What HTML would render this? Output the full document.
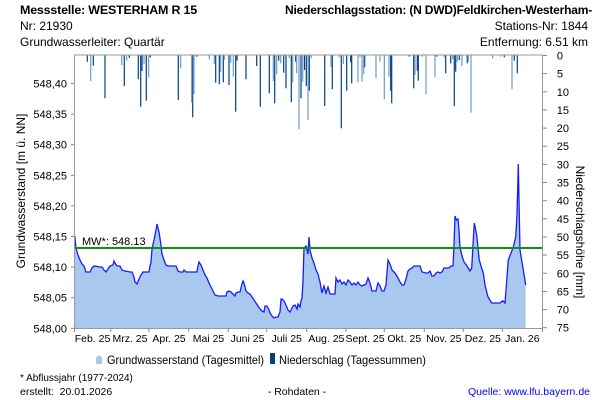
<!DOCTYPE html>
<html><head><meta charset="utf-8"><style>
html,body{margin:0;padding:0;background:#fff}
svg{display:block}
text{font-family:"Liberation Sans",Arial,sans-serif;fill:#000}
</style></head><body>
<svg width="600" height="400" viewBox="0 0 600 400" xmlns="http://www.w3.org/2000/svg">
<rect width="600" height="400" fill="#fff"/>
<!-- header -->
<text x="20" y="14" font-size="12" font-weight="bold" letter-spacing="-0.2" textLength="177" lengthAdjust="spacingAndGlyphs">Messstelle: WESTERHAM R 15</text>
<text x="20" y="30" font-size="12">Nr: 21930</text>
<text x="20" y="46" font-size="12">Grundwasserleiter: Quartär</text>
<text x="592" y="14" font-size="12" font-weight="bold" text-anchor="end" letter-spacing="-0.2">Niederschlagsstation: (N DWD)Feldkirchen-Westerham-</text>
<text x="588" y="30" font-size="12" text-anchor="end">Stations-Nr: 1844</text>
<text x="588" y="46" font-size="12" text-anchor="end">Entfernung: 6.51 km</text>

<!-- groundwater area -->
<polygon fill="#a8c8ee" points="74.7,328 74.7,236 76,248 78,255 80,260 82,264 84,266 86,272 90,272 92,268 94,266 100,267 102,267 104,270 106,272 108,269 110,266 113,265 114,261 115,263 117,266 120,266 122,270 125,271 130,272 132,272 134,277 135,282 137,284 139,279 141,275 143,272 149,272 150,266 151,262 152,249 154,240 156,230 157,224 159,232 161,245 162,254 164,260 166,265 168,266 176,266 178,271 180,272 183,272 184,270 186,272 197,272 198,266 199,262 201,265 203,270 205,275 207,278 209,283 211,287 213,291 215,295 218,296 226,296 227,292 229,291 231,292 233,294 235,296 236,293 238,292 240,292 242,284 243,281 244,283 246,291 248,293 250,294 252,297 254,300 256,303 258,306 260,309 262,311 264,312 265,306 267,306 269,310 270,313 272,316 274,318 276,317 278,317 280,312 281,299 282,299 284,301 286,305 288,310 290,312 293,306 295,305 297,309 298,304 300,307 301,301 302,298 303,281 304,248 306,246 308,254 309,237 310,250 312,258 314,263 316,270 318,274 320,282 322,293 324,286 326,293 328,287 330,294 335,294 336,278 338,282 340,280 342,284 344,282 346,285 348,280 350,282 352,285 354,283 356,285 358,282 360,285 362,286 364,285 366,284 368,278 370,283 372,291 376,291 378,283 380,286 382,291 384,291 386,285 388,260 390,264 392,270 395,273 398,278 400,282 402,285 404,285 406,279 408,271 410,269 412,268 414,266 420,266 422,272 426,273 428,273 430,271 432,276 434,276 436,273 438,272 440,273 442,272 444,268 446,268 449,268 451,266 453,266 454,245 455,216 456.5,220 458,219 459,230 460,247 462,256 464,262 467,266 470,271 471.7,268 473,245 474.3,223 476.7,235 479.3,260 481,266 483.3,273 485,285 488,297 491.7,303 500,303 502.7,300.7 505,303 506,290 508.3,260 513.3,247 515.7,237 517,215 518.3,164 519,200 520,250 523.3,270 525.7,285 525.7,328"/>
<polyline fill="none" stroke="#1a1aff" stroke-width="1.3" points="74.7,236 76,248 78,255 80,260 82,264 84,266 86,272 90,272 92,268 94,266 100,267 102,267 104,270 106,272 108,269 110,266 113,265 114,261 115,263 117,266 120,266 122,270 125,271 130,272 132,272 134,277 135,282 137,284 139,279 141,275 143,272 149,272 150,266 151,262 152,249 154,240 156,230 157,224 159,232 161,245 162,254 164,260 166,265 168,266 176,266 178,271 180,272 183,272 184,270 186,272 197,272 198,266 199,262 201,265 203,270 205,275 207,278 209,283 211,287 213,291 215,295 218,296 226,296 227,292 229,291 231,292 233,294 235,296 236,293 238,292 240,292 242,284 243,281 244,283 246,291 248,293 250,294 252,297 254,300 256,303 258,306 260,309 262,311 264,312 265,306 267,306 269,310 270,313 272,316 274,318 276,317 278,317 280,312 281,299 282,299 284,301 286,305 288,310 290,312 293,306 295,305 297,309 298,304 300,307 301,301 302,298 303,281 304,248 306,246 308,254 309,237 310,250 312,258 314,263 316,270 318,274 320,282 322,293 324,286 326,293 328,287 330,294 335,294 336,278 338,282 340,280 342,284 344,282 346,285 348,280 350,282 352,285 354,283 356,285 358,282 360,285 362,286 364,285 366,284 368,278 370,283 372,291 376,291 378,283 380,286 382,291 384,291 386,285 388,260 390,264 392,270 395,273 398,278 400,282 402,285 404,285 406,279 408,271 410,269 412,268 414,266 420,266 422,272 426,273 428,273 430,271 432,276 434,276 436,273 438,272 440,273 442,272 444,268 446,268 449,268 451,266 453,266 454,245 455,216 456.5,220 458,219 459,230 460,247 462,256 464,262 467,266 470,271 471.7,268 473,245 474.3,223 476.7,235 479.3,260 481,266 483.3,273 485,285 488,297 491.7,303 500,303 502.7,300.7 505,303 506,290 508.3,260 513.3,247 515.7,237 517,215 518.3,164 519,200 520,250 523.3,270 525.7,285"/>

<!-- MW line -->
<line x1="74" y1="248" x2="543" y2="248" stroke="#109010" stroke-width="2"/>
<text x="82" y="245" font-size="11">MW*: 548.13</text>

<!-- precipitation bars -->
<g stroke-width="1.2">
<g stroke="#00427f">
<line x1="87.3" y1="55" x2="87.3" y2="61.7"/><line x1="93.3" y1="55" x2="93.3" y2="65.7"/><line x1="105" y1="55" x2="105" y2="98.3"/><line x1="124.3" y1="55" x2="124.3" y2="86"/><line x1="129.3" y1="55" x2="129.3" y2="58"/><line x1="138.3" y1="55" x2="138.3" y2="79.3"/><line x1="140.7" y1="55" x2="140.7" y2="106.7"/><line x1="142" y1="55" x2="142" y2="71"/><line x1="146.3" y1="55" x2="146.3" y2="100.7"/><line x1="150.3" y1="55" x2="150.3" y2="57.3"/><line x1="178.3" y1="55" x2="178.3" y2="100"/><line x1="192.7" y1="55" x2="192.7" y2="117.3"/><line x1="196.7" y1="55" x2="196.7" y2="56.7"/><line x1="215.7" y1="55" x2="215.7" y2="82.7"/><line x1="219.3" y1="55" x2="219.3" y2="84.3"/><line x1="223.3" y1="55" x2="223.3" y2="82.3"/><line x1="229" y1="55" x2="229" y2="85"/><line x1="235.7" y1="55" x2="235.7" y2="111.7"/><line x1="237" y1="55" x2="237" y2="60.7"/><line x1="246" y1="55" x2="246" y2="79.3"/><line x1="256.7" y1="55" x2="256.7" y2="66"/><line x1="260.3" y1="55" x2="260.3" y2="106.7"/><line x1="269.3" y1="55" x2="269.3" y2="93.3"/><line x1="274.7" y1="55" x2="274.7" y2="103.3"/><line x1="278.7" y1="55" x2="278.7" y2="60.7"/><line x1="283.7" y1="55" x2="283.7" y2="72.7"/><line x1="286" y1="55" x2="286" y2="88.3"/><line x1="291.3" y1="55" x2="291.3" y2="102.3"/><line x1="295.7" y1="55" x2="295.7" y2="61.7"/><line x1="301" y1="55" x2="301" y2="98.3"/><line x1="304.5" y1="55" x2="304.5" y2="70"/><line x1="306.3" y1="55" x2="306.3" y2="86"/><line x1="309.3" y1="55" x2="309.3" y2="90.7"/><line x1="324.7" y1="55" x2="324.7" y2="106"/><line x1="332.3" y1="55" x2="332.3" y2="89.3"/><line x1="341.3" y1="55" x2="341.3" y2="128.3"/><line x1="346.7" y1="55" x2="346.7" y2="90.7"/><line x1="350.7" y1="55" x2="350.7" y2="62.3"/><line x1="351.7" y1="55" x2="351.7" y2="83.3"/><line x1="364.7" y1="55" x2="364.7" y2="67.3"/><line x1="390.7" y1="55" x2="390.7" y2="90.7"/><line x1="391.7" y1="55" x2="391.7" y2="103.3"/><line x1="409.3" y1="55" x2="409.3" y2="56.7"/><line x1="413.7" y1="55" x2="413.7" y2="88.3"/><line x1="417.3" y1="55" x2="417.3" y2="70.7"/><line x1="418.3" y1="55" x2="418.3" y2="80.7"/><line x1="436.7" y1="55" x2="436.7" y2="56.7"/><line x1="445.7" y1="55" x2="445.7" y2="73.3"/><line x1="450.7" y1="55" x2="450.7" y2="63.3"/><line x1="454.3" y1="55" x2="454.3" y2="106"/><line x1="455.7" y1="55" x2="455.7" y2="71.7"/><line x1="459.3" y1="55" x2="459.3" y2="60"/><line x1="467.3" y1="55" x2="467.3" y2="63.3"/><line x1="504.3" y1="55" x2="504.3" y2="57.3"/><line x1="514.3" y1="55" x2="514.3" y2="60.7"/><line x1="517.3" y1="55" x2="517.3" y2="73.3"/>
</g>
<g stroke="#6a9ccc">
<line x1="90.7" y1="55" x2="90.7" y2="81"/><line x1="121.7" y1="55" x2="121.7" y2="65"/><line x1="126.7" y1="55" x2="126.7" y2="60.7"/><line x1="144" y1="55" x2="144" y2="64"/><line x1="148.7" y1="55" x2="148.7" y2="77.3"/><line x1="180.7" y1="55" x2="180.7" y2="68.3"/><line x1="191.7" y1="55" x2="191.7" y2="102.7"/><line x1="194" y1="55" x2="194" y2="94"/><line x1="209.3" y1="55" x2="209.3" y2="59.3"/><line x1="214.3" y1="55" x2="214.3" y2="64"/><line x1="220.7" y1="55" x2="220.7" y2="71.7"/><line x1="224.3" y1="55" x2="224.3" y2="60"/><line x1="230.7" y1="55" x2="230.7" y2="62.7"/><line x1="233.3" y1="55" x2="233.3" y2="76.7"/><line x1="273.3" y1="55" x2="273.3" y2="81"/><line x1="276.7" y1="55" x2="276.7" y2="74.3"/><line x1="280.7" y1="55" x2="280.7" y2="63.3"/><line x1="289.3" y1="55" x2="289.3" y2="58.3"/><line x1="292.7" y1="55" x2="292.7" y2="82.3"/><line x1="296.7" y1="55" x2="296.7" y2="73.3"/><line x1="299" y1="55" x2="299" y2="129.3"/><line x1="302.7" y1="55" x2="302.7" y2="81.7"/><line x1="308" y1="55" x2="308" y2="120"/><line x1="311.3" y1="55" x2="311.3" y2="58.3"/><line x1="331" y1="55" x2="331" y2="67.3"/><line x1="339.3" y1="55" x2="339.3" y2="57.3"/><line x1="343.3" y1="55" x2="343.3" y2="64"/><line x1="358" y1="55" x2="358" y2="82.3"/><line x1="360" y1="55" x2="360" y2="57.3"/><line x1="362" y1="55" x2="362" y2="81.7"/><line x1="363.7" y1="55" x2="363.7" y2="74.3"/><line x1="376" y1="55" x2="376" y2="78.3"/><line x1="380" y1="55" x2="380" y2="61.7"/><line x1="384.3" y1="55" x2="384.3" y2="99.3"/><line x1="389" y1="55" x2="389" y2="76.7"/><line x1="415" y1="55" x2="415" y2="75"/><line x1="422.3" y1="55" x2="422.3" y2="56.7"/><line x1="426" y1="55" x2="426" y2="94.3"/><line x1="435" y1="55" x2="435" y2="77.3"/><line x1="444.3" y1="55" x2="444.3" y2="57.3"/><line x1="452.7" y1="55" x2="452.7" y2="59.3"/><line x1="457.3" y1="55" x2="457.3" y2="61.7"/><line x1="462" y1="55" x2="462" y2="66"/><line x1="468.3" y1="55" x2="468.3" y2="61.7"/><line x1="471" y1="55" x2="471" y2="112.7"/><line x1="492.7" y1="55" x2="492.7" y2="58.3"/><line x1="500.7" y1="55" x2="500.7" y2="56.7"/><line x1="512" y1="55" x2="512" y2="89.3"/>
</g>
</g>

<!-- axes -->
<g stroke="#999" stroke-width="1" fill="none">
<line x1="74" y1="55" x2="543" y2="55"/>
<line x1="74.5" y1="55" x2="74.5" y2="329"/>
<line x1="542.5" y1="55" x2="542.5" y2="329"/>
<line x1="74" y1="328.5" x2="543" y2="328.5"/>
</g>
<g stroke="#888" stroke-width="1">
<line x1="71" y1="83.5" x2="74" y2="83.5"/><line x1="71" y1="114.1" x2="74" y2="114.1"/><line x1="71" y1="144.7" x2="74" y2="144.7"/><line x1="71" y1="175.3" x2="74" y2="175.3"/><line x1="71" y1="205.9" x2="74" y2="205.9"/><line x1="71" y1="236.5" x2="74" y2="236.5"/><line x1="71" y1="267.1" x2="74" y2="267.1"/><line x1="71" y1="297.7" x2="74" y2="297.7"/><line x1="71" y1="328.3" x2="74" y2="328.3"/>
<line x1="543" y1="55.5" x2="547" y2="55.5"/><line x1="543" y1="73.6" x2="547" y2="73.6"/><line x1="543" y1="91.8" x2="547" y2="91.8"/><line x1="543" y1="109.9" x2="547" y2="109.9"/><line x1="543" y1="128.1" x2="547" y2="128.1"/><line x1="543" y1="146.2" x2="547" y2="146.2"/><line x1="543" y1="164.4" x2="547" y2="164.4"/><line x1="543" y1="182.5" x2="547" y2="182.5"/><line x1="543" y1="200.7" x2="547" y2="200.7"/><line x1="543" y1="218.8" x2="547" y2="218.8"/><line x1="543" y1="237" x2="547" y2="237"/><line x1="543" y1="255.1" x2="547" y2="255.1"/><line x1="543" y1="273.3" x2="547" y2="273.3"/><line x1="543" y1="291.4" x2="547" y2="291.4"/><line x1="543" y1="309.6" x2="547" y2="309.6"/><line x1="543" y1="327.7" x2="547" y2="327.7"/>
<line x1="74.5" y1="328" x2="74.5" y2="332"/><line x1="110.7" y1="328" x2="110.7" y2="332"/><line x1="149" y1="328" x2="149" y2="332"/><line x1="188.7" y1="328" x2="188.7" y2="332"/><line x1="228.3" y1="328" x2="228.3" y2="332"/><line x1="266.7" y1="328" x2="266.7" y2="332"/><line x1="306.7" y1="328" x2="306.7" y2="332"/><line x1="346" y1="328" x2="346" y2="332"/><line x1="384.3" y1="328" x2="384.3" y2="332"/><line x1="424.3" y1="328" x2="424.3" y2="332"/><line x1="463.3" y1="328" x2="463.3" y2="332"/><line x1="502.3" y1="328" x2="502.3" y2="332"/><line x1="542.5" y1="328" x2="542.5" y2="332"/>
</g>

<g font-size="11" text-anchor="end">
<text x="67" y="87.5">548,40</text><text x="67" y="118.1">548,35</text><text x="67" y="148.7">548,30</text><text x="67" y="179.3">548,25</text><text x="67" y="209.9">548,20</text><text x="67" y="240.5">548,15</text><text x="67" y="271.1">548,10</text><text x="67" y="301.7">548,05</text><text x="67" y="332.3">548,00</text>
</g>
<g font-size="11" text-anchor="end">
<text x="563" y="59.5">0</text><text x="563" y="77.6">5</text><text x="569" y="95.8">10</text><text x="569" y="113.9">15</text><text x="569" y="132.1">20</text><text x="569" y="150.2">25</text><text x="569" y="168.4">30</text><text x="569" y="186.5">35</text><text x="569" y="204.7">40</text><text x="569" y="222.8">45</text><text x="569" y="241">50</text><text x="569" y="259.1">55</text><text x="569" y="277.3">60</text><text x="569" y="295.4">65</text><text x="569" y="313.6">70</text><text x="569" y="331.7">75</text>
</g>
<g font-size="10.5" text-anchor="middle">
<text x="92.5" y="342">Feb. 25</text><text x="130" y="342">Mrz. 25</text><text x="169" y="342">Apr. 25</text><text x="208.5" y="342">Mai 25</text><text x="247.5" y="342">Juni 25</text><text x="286.7" y="342">Juli 25</text><text x="326.3" y="342">Aug. 25</text><text x="365" y="342">Sept. 25</text><text x="404.3" y="342">Okt. 25</text><text x="443.8" y="342">Nov. 25</text><text x="482.8" y="342">Dez. 25</text><text x="522.4" y="342">Jan. 26</text>
</g>

<text transform="translate(25,191) rotate(-90)" font-size="12" text-anchor="middle">Grundwasserstand [m ü. NN]</text>
<text transform="translate(576,232) rotate(90)" font-size="12" text-anchor="middle">Niederschlagshöhe [mm]</text>

<!-- legend -->
<path d="M96,364 L96,358 Q99,353 102,358 L102,364 Z" fill="#a8c8ee"/>
<text x="107" y="364" font-size="12" textLength="157" lengthAdjust="spacingAndGlyphs">Grundwasserstand (Tagesmittel)</text>
<rect x="270" y="353" width="5" height="11" fill="#00427f"/>
<text x="279" y="364" font-size="12" textLength="147" lengthAdjust="spacingAndGlyphs">Niederschlag (Tagessummen)</text>

<text x="20" y="381" font-size="10">* Abflussjahr (1977-2024)</text>
<text x="20" y="395" font-size="10.5" xml:space="preserve">erstellt:  20.01.2026</text>
<text x="297" y="395" font-size="10.5" text-anchor="middle">- Rohdaten -</text>
<text x="590" y="395" font-size="10.5" text-anchor="end" style="fill:#0000ee">Quelle: www.lfu.bayern.de</text>
</svg>
</body></html>
